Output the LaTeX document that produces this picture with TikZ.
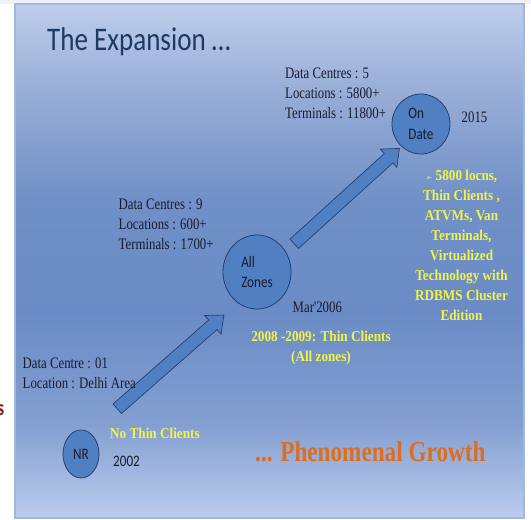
\documentclass[tikz,border=0pt]{standalone}
\usepackage{fontspec}
\setmainfont{Liberation Serif}
\newfontfamily\cserif[FakeStretch=0.8]{Liberation Serif}
\newfontfamily\cserifb[FakeStretch=0.88]{Liberation Serif}
\newfontfamily\csans[FakeStretch=0.82]{Carlito}
\newfontfamily\dejavu{DejaVu Sans}
\usetikzlibrary{shapes.arrows,shapes.geometric}
\definecolor{bgtop}{RGB}{190,205,235}
\definecolor{bgA}{RGB}{150,172,214}
\definecolor{bgB}{RGB}{112,144,199}
\definecolor{bgC}{RGB}{106,139,197}
\definecolor{bgD}{RGB}{132,160,210}
\definecolor{bgbot}{RGB}{188,204,237}
\definecolor{panelborder}{RGB}{160,184,224}
\definecolor{bubble}{RGB}{80,127,194}
\definecolor{bubbleline}{RGB}{38,64,115}
\definecolor{txtdark}{RGB}{24,28,46}
\definecolor{titleblue}{RGB}{30,58,100}
\definecolor{yel}{RGB}{242,244,70}
\definecolor{orng}{RGB}{222,110,30}
\definecolor{darkred}{RGB}{140,30,30}
\definecolor{stripe}{RGB}{238,242,248}
\pgfdeclareverticalshading{slidebg}{100bp}{color(0bp)=(bgbot); color(25bp)=(bgbot); color(34bp)=(bgD); color(45bp)=(bgC); color(56bp)=(bgB); color(66bp)=(bgA); color(75bp)=(bgtop); color(100bp)=(bgtop)}
\tikzset{
  datatxt/.style={font=\cserif\fontsize{16}{20}\selectfont, text=txtdark, align=left, inner sep=0, anchor=west},
  yeltxt/.style={font=\cserifb\bfseries\fontsize{15}{20}\selectfont, text=yel, align=center, inner sep=0},
  bubblenode/.style={ellipse, draw=bubbleline, fill=bubble, line width=0.8pt, inner sep=0,
     font=\csans\fontsize{16}{20.5}\selectfont, text=txtdark, align=left},
  blockarrow/.style={single arrow, draw=bubbleline, fill=bubble, line width=0.7pt,
     inner xsep=0pt, inner ysep=6pt, minimum width=0pt, single arrow head extend=6pt,
     single arrow tip angle=80, anchor=tail}
}
\begin{document}
\begin{tikzpicture}[x=1pt,y=-1pt]
\useasboundingbox (0,0) rectangle (531,520);
\fill[white] (0,0) rectangle (531,520);
\fill[stripe] (0,0) rectangle (531,4);
\shade[shading=slidebg] (15,4) rectangle (524,518);
\draw[panelborder, line width=1.5pt] (15,4) rectangle (524,518);

% partial letter from outside the slide
\node[anchor=east, font=\csans\bfseries\fontsize{22}{24}\selectfont, text=darkred, inner sep=0] (frag) at (4.5,410) {s};

% title
\node[anchor=base west, font=\csans\fontsize{33}{36}\selectfont, text=titleblue, inner sep=0] (title) at (47,50) {The Expansion \ldots};

% bubbles
\node[bubblenode, minimum width=36pt, minimum height=48pt] (nr) at (81,454) {NR};
\node[bubblenode, minimum width=68pt, minimum height=74pt] (zones) at (257,272) {All\\Zones};
\node[bubblenode, minimum width=58pt, minimum height=60pt] (ondate) at (421,124) {On\\Date};

% block arrows
\coordinate (a1tail) at (117,409);
\coordinate (a2tail) at (294,244);
\node[blockarrow, rotate=41.3, minimum height=142pt] (arr1) at (a1tail) {};
\node[blockarrow, rotate=42.2, minimum height=142pt] (arr2) at (a2tail) {};

% data texts
\node[datatxt] (d3) at (285,93) {Data Centres : 5\\Locations : 5800+\\Terminals : 11800+};
\node[datatxt] (d2) at (118.5,224) {Data Centres : 9\\Locations : 600+\\Terminals : 1700+};
\node[datatxt] (d1) at (22.5,373.5) {Data Centre : 01\\Location : Delhi Area};

\node[datatxt] (y2015) at (461.5,117.5) {2015};
\node[datatxt] (ymar) at (292.5,307) {Mar'2006};
\node[anchor=west, inner sep=0, font=\csans\fontsize{16}{20}\selectfont, text=txtdark] (y2002) at (113,461) {2002};

% yellow notes
\node[yeltxt] (note3) at (461.5,245) {{\dejavu\mdseries\fontsize{8}{10}\selectfont ➢} 5800 locns,\\Thin Clients ,\\ATVMs, Van\\Terminals,\\Virtualized\\Technology with\\RDBMS Cluster\\Edition};
\node[yeltxt] (note2) at (321,348) {2008 -2009: Thin Clients\\(All zones)};
\node[yeltxt, anchor=west] (note1) at (110,433) {No Thin Clients};

% growth
\node[anchor=west, inner sep=0, font=\cserif\bfseries\fontsize{29}{32}\selectfont, text=orng] (growth) at (255,452) {... Phenomenal Growth};
\end{tikzpicture}
\end{document}
